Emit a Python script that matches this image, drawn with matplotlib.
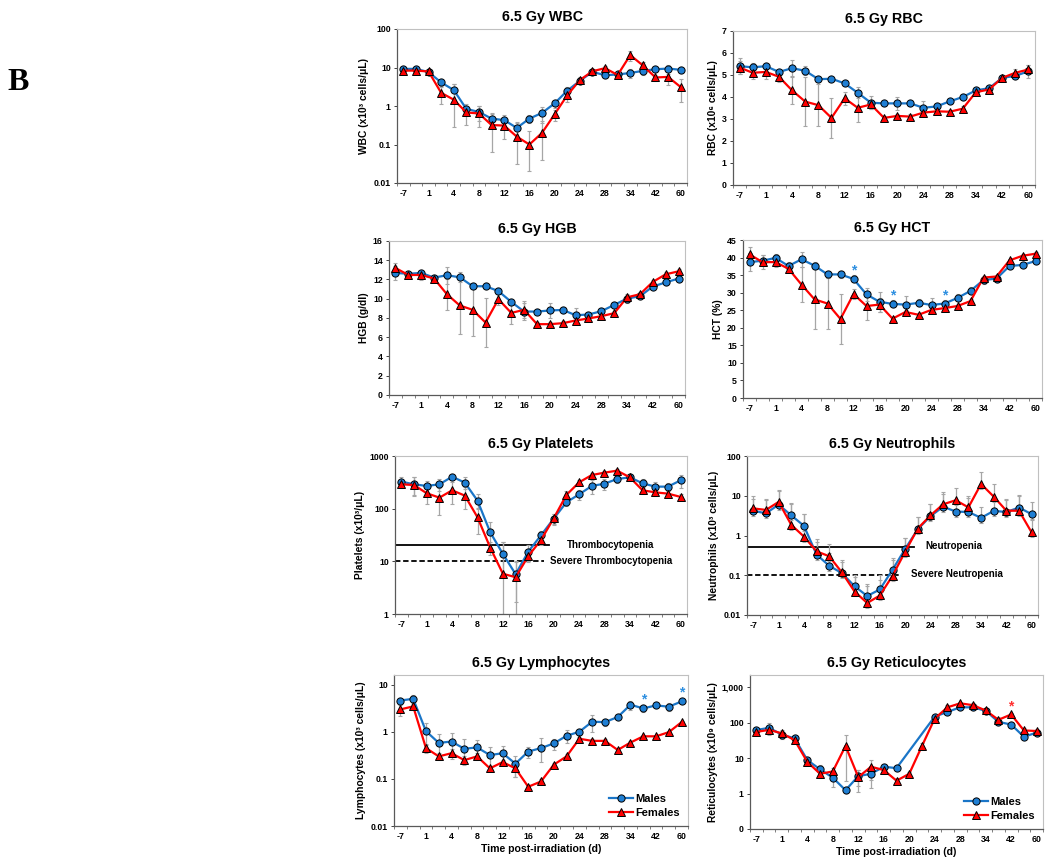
import numpy as np
import matplotlib
matplotlib.use("Agg")
import matplotlib.pyplot as plt
from matplotlib.ticker import NullLocator, FixedLocator

plt.rcParams['font.family'] = ['Liberation Sans', 'DejaVu Sans']
plt.rcParams['font.weight'] = 'bold'

# ---------------- data ----------------
tick_labels = ["-7", "1", "4", "8", "12", "16", "20", "24", "28", "34", "42", "60"]
n_points = 23

wbc_m = [9.2, 9.2, 7.6, 4.1, 2.6, 0.84, 0.70, 0.47, 0.43, 0.27, 0.47, 0.66, 1.17, 2.5, 4.5, 7.7, 6.3, 6.6, 7.2, 8.2, 9.0, 9.4, 8.7]
wbc_f = [8.3, 8.3, 7.9, 2.2, 1.46, 0.68, 0.64, 0.32, 0.31, 0.16, 0.10, 0.20, 0.61, 1.9, 4.7, 8.0, 9.6, 6.4, 21, 11.3, 5.5, 5.7, 3.1]
wbc_m_err = [1.5, 1.5, 1.0, 1.0, 1.2, 0.3, 0.3, 0.2, 0.17, 0.12, 0.1, 0.3, 0.3, 0.6, 0.8, 1.0, 1.0, 1.0, 2.0, 2.0, 1.5, 2.5, 1.5]
wbc_f_err = [1.0, 1.0, 1.0, 1.1, 2.2, 0.35, 0.35, 0.3, 0.17, 0.2, 0.12, 0.2, 0.2, 0.6, 0.8, 1.0, 1.5, 1.0, 6.0, 3.0, 1.0, 2.2, 1.8]

rbc_m = [5.40, 5.35, 5.40, 5.14, 5.31, 5.19, 4.81, 4.83, 4.62, 4.19, 3.74, 3.71, 3.71, 3.71, 3.51, 3.57, 3.80, 4.00, 4.30, 4.40, 4.87, 4.96, 5.17]
rbc_f = [5.34, 5.10, 5.14, 4.92, 4.30, 3.79, 3.63, 3.05, 3.94, 3.51, 3.66, 3.05, 3.14, 3.11, 3.29, 3.35, 3.33, 3.47, 4.22, 4.34, 4.87, 5.10, 5.25]
rbc_m_err = [0.35, 0.2, 0.15, 0.1, 0.35, 0.2, 0.1, 0.1, 0.1, 0.25, 0.3, 0.1, 0.3, 0.1, 0.3, 0.1, 0.1, 0.15, 0.1, 0.1, 0.1, 0.1, 0.3]
rbc_f_err = [0.3, 0.3, 0.3, 0.25, 0.6, 1.1, 0.95, 0.9, 0.3, 0.65, 0.2, 0.1, 0.1, 0.1, 0.1, 0.1, 0.1, 0.1, 0.1, 0.1, 0.1, 0.15, 0.2]

hgb_m = [12.68, 12.6, 12.68, 12.2, 12.44, 12.23, 11.3, 11.3, 10.8, 9.67, 8.67, 8.67, 8.78, 8.84, 8.29, 8.36, 8.71, 9.36, 10.02, 10.26, 11.27, 11.7, 12.1]
hgb_f = [13.2, 12.47, 12.47, 12.1, 10.47, 9.3, 8.85, 7.53, 9.95, 8.53, 8.85, 7.36, 7.36, 7.46, 7.74, 7.95, 8.19, 8.5, 10.15, 10.47, 11.75, 12.54, 12.85]
hgb_m_err = [0.7, 0.3, 0.3, 0.3, 0.9, 0.5, 0.3, 0.3, 0.3, 0.3, 0.9, 0.3, 0.8, 0.3, 0.8, 0.3, 0.3, 0.3, 0.5, 0.3, 0.3, 0.3, 0.3]
hgb_f_err = [0.5, 0.3, 0.5, 0.4, 1.6, 3.0, 2.7, 2.5, 0.6, 1.2, 0.9, 0.2, 0.2, 0.2, 0.2, 0.2, 0.2, 0.2, 0.2, 0.2, 0.2, 0.2, 0.2]

hct_m = [38.7, 39.1, 39.9, 37.6, 39.5, 37.7, 35.2, 35.2, 33.9, 29.5, 27.4, 26.8, 26.6, 27.1, 26.5, 26.9, 28.5, 30.5, 33.6, 34.0, 37.6, 37.9, 39.0]
hct_f = [40.9, 38.7, 38.7, 36.8, 32.3, 28.1, 26.9, 22.5, 29.6, 26.2, 26.6, 22.6, 24.5, 23.7, 25.1, 25.6, 26.2, 27.6, 34.3, 34.6, 39.2, 40.5, 41.1]
hct_m_err = [2.5, 1.5, 1.0, 1.0, 2.2, 1.0, 1.0, 1.0, 1.0, 1.8, 2.9, 1.0, 2.5, 1.0, 1.9, 1.0, 1.0, 1.0, 1.0, 1.0, 1.0, 0.5, 0.5]
hct_f_err = [2.0, 2.0, 1.5, 1.0, 5.0, 8.5, 7.2, 7.1, 1.5, 4.0, 2.0, 0.5, 0.5, 0.5, 0.5, 0.5, 0.5, 0.5, 0.5, 0.5, 0.5, 0.5, 0.5]
hct_m_star = [8, 11, 15]

plt_m = [326, 290, 270, 290, 405, 312, 142, 35.6, 13.8, 5.7, 15.3, 31.2, 64.6, 132, 187, 270, 298, 366, 393, 303, 262, 262, 345]
plt_f = [290, 281, 196, 162, 223, 177, 68.5, 18.2, 5.8, 5.0, 12.6, 25.4, 65.5, 182, 316, 435, 483, 527, 393, 223, 204, 193, 167]
plt_m_err = [70, 110, 60, 70, 60, 80, 45, 20, 9, 4, 5, 7, 15, 20, 40, 80, 70, 60, 50, 60, 60, 50, 100]
plt_f_err = [40, 110, 75, 85, 100, 80, 35, 5, 17, 5, 3, 5, 15, 30, 40, 40, 40, 40, 40, 30, 30, 20, 20]
thrombocytopenia = 20
severe_thrombocytopenia = 10

neu_m = [4.2, 3.6, 6.0, 3.2, 1.75, 0.33, 0.173, 0.113, 0.053, 0.030, 0.044, 0.137, 0.46, 1.44, 3.06, 5.3, 4.0, 3.9, 2.78, 4.16, 3.9, 5.05, 3.43]
neu_f = [4.8, 4.4, 7.0, 1.85, 0.94, 0.40, 0.30, 0.118, 0.039, 0.020, 0.031, 0.097, 0.39, 1.5, 3.2, 6.1, 7.7, 5.1, 19.8, 9.5, 4.2, 4.2, 1.19]
neu_m_err = [4, 4, 7, 3.5, 1.8, 0.35, 0.2, 0.1, 0.04, 0.025, 0.03, 0.1, 0.4, 1.5, 3, 6, 4, 5, 2.5, 4, 4, 5, 3.5]
neu_f_err = [5, 4, 7, 4.5, 2.5, 0.4, 0.3, 0.13, 0.06, 0.04, 0.07, 0.18, 0.5, 1.5, 3, 6, 8, 5, 20, 10, 4, 6, 1.2]
neutropenia = 0.5
severe_neutropenia = 0.1

lym_m = [4.6, 5.0, 1.03, 0.58, 0.62, 0.435, 0.465, 0.32, 0.35, 0.21, 0.38, 0.45, 0.565, 0.82, 1.0, 1.63, 1.6, 2.05, 3.74, 3.13, 3.62, 3.4, 4.4]
lym_f = [2.98, 3.45, 0.45, 0.30, 0.35, 0.25, 0.30, 0.167, 0.227, 0.167, 0.068, 0.088, 0.20, 0.30, 0.71, 0.64, 0.64, 0.41, 0.59, 0.80, 0.80, 0.98, 1.6]
lym_m_err = [0.5, 1.0, 0.5, 0.3, 0.3, 0.25, 0.2, 0.15, 0.15, 0.1, 0.1, 0.27, 0.15, 0.25, 0.15, 0.65, 0.3, 0.2, 0.8, 0.5, 0.5, 0.6, 0.4]
lym_f_err = [0.8, 0.5, 0.1, 0.05, 0.08, 0.05, 0.05, 0.02, 0.03, 0.06, 0.005, 0.01, 0.02, 0.03, 0.05, 0.05, 0.05, 0.04, 0.05, 0.05, 0.05, 0.08, 0.1]
lym_m_star = [19, 22]

ret_m = [62, 71, 46, 36, 8.8, 4.8, 2.8, 1.24, 3.1, 3.6, 5.7, 5.2, np.nan, np.nan, 148, 200, 270, 270, 215, 105, 88, 40, 52]
ret_f = [55, 62, 50, 32, 7.8, 3.6, 4.2, 22, 2.9, 5.7, 4.6, 2.3, 3.6, 22, 130, 270, 350, 310, 220, 120, 170, 60, 58]
ret_m_err = [12, 25, 12, 8, 2, 1.5, 1.3, 0.2, 1.5, 2.2, 1, 1, 0, 0, 20, 30, 40, 40, 30, 15, 15, 8, 8]
ret_f_err = [8, 15, 10, 6, 1.5, 0.8, 1.0, 23, 1.8, 3.3, 1.0, 0.4, 0.5, 4, 20, 40, 40, 40, 30, 20, 20, 10, 8]
ret_f_star = [20]

# ---------------- style ----------------
BLUE = "#1a75c7"
BLUE_FILL = "#1f7fd4"
RED = "#ff0000"
ERR = "#a6a6a6"

W, H = 1050, 865
fig = plt.figure(figsize=(W / 100, H / 100), dpi=100)


def px_axes(left, right, top, bottom):
    return fig.add_axes([left / W, 1 - bottom / H, (right - left) / W, (bottom - top) / H])


def draw_series(ax, vals, errs, color, fill, marker, log, ybot, label, low_floor):
    x = np.arange(n_points)
    v = np.array(vals, dtype=float)
    e = np.array(errs, dtype=float)
    ok = ~np.isnan(v) & (e > 0)
    lo = v - e
    if log:
        lo = np.maximum(lo, v * low_floor)
        lo = np.maximum(lo, ybot)
    ax.errorbar(x[ok], v[ok], yerr=[v[ok] - lo[ok], e[ok]], fmt='none', ecolor=ERR,
                elinewidth=0.9, capsize=1.6, capthick=0.8, zorder=2)
    good = ~np.isnan(v)
    ax.plot(x[good], v[good], color=color, lw=1.6, zorder=3, marker=marker,
            markersize=5.2 if marker == 'o' else 5.4, markerfacecolor=fill,
            markeredgecolor='black', markeredgewidth=0.7, label=label)


def setup(ax, title, ylabel, log, ylim, yticks, yticklabels, xlabel=False):
    ax.set_xlim(-0.5, n_points - 0.5)
    if log:
        ax.set_yscale('log')
    ax.set_ylim(*ylim)
    ax.yaxis.set_major_locator(FixedLocator(yticks))
    ax.yaxis.set_minor_locator(NullLocator())
    ax.set_yticklabels(yticklabels)
    ax.set_xticks(np.arange(0, n_points, 2))
    ax.set_xticklabels(tick_labels)
    ax.set_xticks(np.arange(-0.5, n_points, 1), minor=True)
    ax.tick_params(axis='x', which='major', length=0, pad=4, labelsize=6.3)
    ax.tick_params(axis='x', which='minor', length=2.5, width=0.7, color='#7f7f7f', direction='out')
    ax.tick_params(axis='y', which='major', length=2.5, width=0.7, color='#404040', labelsize=6.3, pad=2)
    for s in ('top', 'right'):
        ax.spines[s].set_color('#c0c0c0')
        ax.spines[s].set_linewidth(0.8)
    for s in ('left', 'bottom'):
        ax.spines[s].set_color('#595959')
        ax.spines[s].set_linewidth(0.9)
    for lab in ax.get_xticklabels() + ax.get_yticklabels():
        lab.set_fontweight('bold')
    ax.set_title(title, fontsize=10.3, fontweight='bold', pad=6)
    ax.set_ylabel(ylabel, fontsize=7.4, fontweight='bold', labelpad=3)
    if xlabel:
        ax.set_xlabel("Time post-irradiation (d)", fontsize=7.6, fontweight='bold', labelpad=2.5)


def panel(box, title, ylabel, m, f, me, fe, log, ylim, yticks, yticklabels, xlabel=False, legend=False, low_floor=0.2):
    ax = px_axes(*box)
    draw_series(ax, m, me, BLUE, BLUE_FILL, 'o', log, ylim[0], "Males", low_floor)
    draw_series(ax, f, fe, RED, RED, '^', log, ylim[0], "Females", low_floor)
    setup(ax, title, ylabel, log, ylim, yticks, yticklabels, xlabel)
    if legend:
        ax.legend(loc='lower right', frameon=False, handlelength=2.2,
                  handletextpad=0.2, borderaxespad=0.3, labelspacing=0.4,
                  prop={'weight': 'bold', 'size': 8})
    return ax


def star(ax, idx_list, vals, color, factor=None, offset=None):
    for i in idx_list:
        v = vals[i]
        y = v * factor if factor else v + offset
        ax.text(i, y, '*', color=color, ha='center', va='center', fontsize=10, fontweight='bold')


log_dec = ["0.01", "0.1", "1", "10", "100"]

ax1 = panel((397, 687, 29, 183), "6.5 Gy WBC", "WBC (x10³ cells/μL)", wbc_m, wbc_f, wbc_m_err, wbc_f_err,
            True, (0.01, 100), [0.01, 0.1, 1, 10, 100], log_dec, low_floor=0.2)
ax2 = panel((733, 1035, 31, 185), "6.5 Gy RBC", "RBC (x10⁶ cells/μL)", rbc_m, rbc_f, rbc_m_err, rbc_f_err,
            False, (0, 7), list(range(8)), [str(i) for i in range(8)])
ax3 = panel((389, 685, 241, 395), "6.5 Gy HGB", "HGB (g/dl)", hgb_m, hgb_f, hgb_m_err, hgb_f_err,
            False, (0, 16), list(range(0, 17, 2)), [str(i) for i in range(0, 17, 2)])
ax4 = panel((743, 1042, 240, 398), "6.5 Gy HCT", "HCT (%)", hct_m, hct_f, hct_m_err, hct_f_err,
            False, (0, 45), list(range(0, 46, 5)), [str(i) for i in range(0, 46, 5)])
star(ax4, hct_m_star, hct_m, '#2e8fe0', offset=2.4)

ax5 = panel((395, 687, 456, 614), "6.5 Gy Platelets", "Platelets (x10³/μL)", plt_m, plt_f, plt_m_err, plt_f_err,
            True, (1, 1000), [1, 10, 100, 1000], ["1", "10", "100", "1000"], low_floor=0.15)
ax5.plot([-0.5, 11.6], [thrombocytopenia] * 2, color='black', lw=1.3, zorder=1)
ax5.plot([-0.5, 11.2], [severe_thrombocytopenia] * 2, color='black', lw=1.3, ls=(0, (3, 1.5)), zorder=1)
ax5.text(13.0, thrombocytopenia, "Thrombocytopenia", fontsize=7, fontweight='bold', va='center', ha='left')
ax5.text(11.7, severe_thrombocytopenia, "Severe Thrombocytopenia", fontsize=7, fontweight='bold', va='center', ha='left')

ax6 = panel((747, 1038, 456, 615), "6.5 Gy Neutrophils", "Neutrophils (x10³ cells/μL)", neu_m, neu_f, neu_m_err, neu_f_err,
            True, (0.01, 100), [0.01, 0.1, 1, 10, 100], log_dec, low_floor=0.75)
ax6.plot([-0.5, 12.7], [neutropenia] * 2, color='black', lw=1.3, zorder=1)
ax6.plot([-0.5, 11.7], [severe_neutropenia] * 2, color='black', lw=1.3, ls=(0, (3, 1.5)), zorder=1)
ax6.text(13.6, neutropenia * 1.1, "Neutropenia", fontsize=7, fontweight='bold', va='center', ha='left')
ax6.text(12.45, severe_neutropenia * 1.05, "Severe Neutropenia", fontsize=7, fontweight='bold', va='center', ha='left')

ax7 = panel((394, 688, 675, 826), "6.5 Gy Lymphocytes", "Lymphocytes (x10³ cells/μL)", lym_m, lym_f, lym_m_err, lym_f_err,
            True, (0.01, 16), [0.01, 0.1, 1, 10], ["0.01", "0.1", "1", "10"], xlabel=True, legend=True, low_floor=0.5)
star(ax7, lym_m_star, lym_m, '#2e8fe0', factor=1.55)

ax8 = panel((750, 1043, 675, 829), "6.5 Gy Reticulocytes", "Reticulocytes (x10⁹ cells/μL)", ret_m, ret_f, ret_m_err, ret_f_err,
            True, (0.1, 2200), [0.1, 1, 10, 100, 1000], ["0", "1", "10", "100", "1,000"], xlabel=True, legend=True,
            low_floor=0.1)
star(ax8, ret_f_star, ret_f, '#ff3030', factor=1.7)

fig.text(7 / W, 1 - 82 / H, "B", fontsize=23, fontweight='bold', family=['Liberation Serif', 'DejaVu Serif'],
         va='center', ha='left')

fig.savefig("out.png", dpi=100, facecolor='white')
